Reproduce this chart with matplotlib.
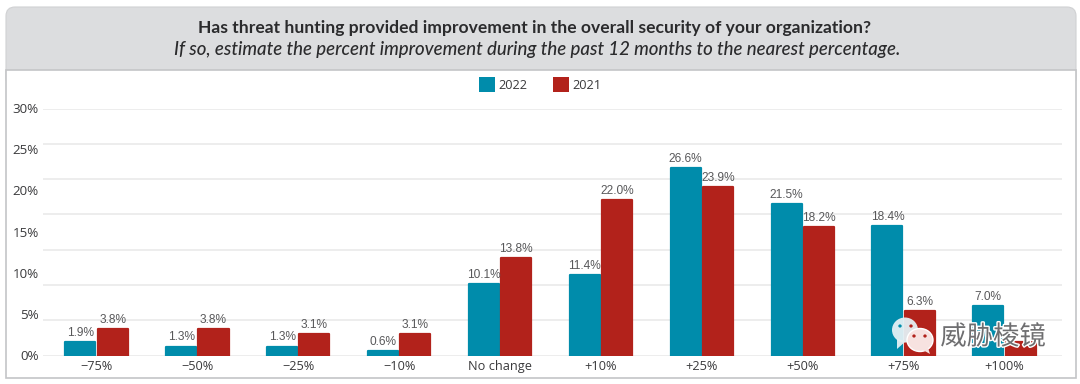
import matplotlib
matplotlib.use('Agg')
import matplotlib.pyplot as plt
from matplotlib.patches import FancyBboxPatch, Rectangle, Ellipse, Polygon
import matplotlib.patheffects as pe
import numpy as np

categories = ['\u221275%', '\u221250%', '\u221225%', '\u221210%', 'No change',
              '+10%', '+25%', '+50%', '+75%', '+100%']
values_2022 = [1.9, 1.3, 1.3, 0.6, 10.1, 11.4, 26.6, 21.5, 18.4, 7.0]
values_2021 = [3.8, 3.8, 3.1, 3.1, 13.8, 22.0, 23.9, 18.2, 6.3, 1.9]
# the last 2021 label is hidden behind the watermark in the picture
labels_2022 = ['1.9%', '1.3%', '1.3%', '0.6%', '10.1%', '11.4%', '26.6%', '21.5%', '18.4%', '7.0%']
labels_2021 = ['3.8%', '3.8%', '3.1%', '3.1%', '13.8%', '22.0%', '23.9%', '18.2%', '6.3%', '']
gridlines = [0, 5, 10, 15, 20, 25, 30, 35]
ytick_labels = ['0%', '5%', '10%', '15%', '20%', '25%', '30%']

TEAL = '#008CAB'
RED = '#B2221B'
TEXT = '#3A3A3C'
W, H = 1080, 384

plt.rcParams['font.family'] = ['Open Sans', 'DejaVu Sans']

fig = plt.figure(figsize=(W / 100, H / 100), dpi=100)

# frame and header, in pixel coordinates
bg = fig.add_axes([0, 0, 1, 1], zorder=0)
bg.set_xlim(0, W)
bg.set_ylim(H, 0)
bg.axis('off')
bg.add_patch(FancyBboxPatch((6, 7), 1070, 80, boxstyle='round,pad=0,rounding_size=9',
                            fc='#DCDDDF', ec='#D0D1D3', lw=0.8))
bg.add_patch(Rectangle((6, 70), 1070, 308, fc='white', ec='#C4C5C7', lw=1.2))
bg.text(534.5, 27.5, 'Has threat hunting provided improvement in the overall security of your organization?',
        ha='center', va='center', fontsize=12.58, fontweight='bold', color='#2B2B2D', family=['Lato', 'DejaVu Sans'])
bg.text(537.5, 49.5, 'If so, estimate the percent improvement during the past 12 months to the nearest percentage.',
        ha='center', va='center', fontsize=13.4, fontstyle='italic', fontweight=500, color='#2B2B2D',
        family=['Lato', 'DejaVu Sans'])

# bars
ax = fig.add_axes([43 / W, (H - 355.7) / H, (1062 - 43) / W, 247.2 / H], zorder=1)
ax.patch.set_alpha(0)
x = np.arange(len(categories))
bw = 0.32
for xs, vals, labs, col in [(x - bw / 2, values_2022, labels_2022, TEAL),
                            (x + bw / 2, values_2021, labels_2021, RED)]:
    bars = ax.bar(xs, vals, width=bw - 0.022, color=col, edgecolor=col, linewidth=1.6, zorder=3)
    for b in bars:
        b.set_joinstyle('round')
    for xi, v, lab in zip(xs, vals, labs):
        ax.annotate(lab, (xi, v), xytext=(0, 2.2), textcoords='offset points', ha='center', va='bottom',
                    fontsize=8.6, color='#58585A', family=['Liberation Sans', 'DejaVu Sans'], zorder=4)

ax.set_xlim(-0.53, 9.57)
ax.set_ylim(0, 35)
ax.set_yticks(gridlines)
ax.set_yticklabels([])
ax.set_xticks(x)
ax.set_xticklabels(categories)
ax.tick_params(axis='both', length=0, labelsize=9.2, labelcolor=TEXT)
ax.tick_params(axis='x', pad=3)
ax.grid(axis='y', color='#E8E8E8', lw=1.1, zorder=0)
ax.set_axisbelow(True)
for s in ax.spines.values():
    s.set_visible(False)

# the printed tick labels are spread evenly and do not sit on the gridlines
for i, lab in enumerate(ytick_labels):
    ax.text(-0.004, i / (len(ytick_labels) - 1) - 0.004, lab, transform=ax.transAxes, ha='right', va='center',
            fontsize=9.6, color=TEXT, clip_on=False)

# legend and watermark on top
fg = fig.add_axes([0, 0, 1, 1], zorder=2)
fg.set_xlim(0, W)
fg.set_ylim(H, 0)
fg.axis('off')
fg.patch.set_alpha(0)
fg.add_patch(Rectangle((479, 77), 16, 15, fc=TEAL))
fg.text(498, 85.5, '2022', va='center', fontsize=9.2, color=TEXT)
fg.add_patch(Rectangle((553, 77), 16, 15, fc=RED))
fg.text(572, 85.5, '2021', va='center', fontsize=9.2, color=TEXT)

fg.add_patch(Ellipse((905, 330), 26, 25, fc='#E4F0F4', ec='none', alpha=0.95))
fg.add_patch(Polygon([[897, 339], [897, 349], [906, 341]], fc='#E4F0F4', alpha=0.95))
fg.add_patch(Ellipse((920, 340), 26, 23, fc='#F7E2E0', ec='white', lw=1))
fg.add_patch(Polygon([[923, 350], [930, 354], [928, 348]], fc='#F7E2E0'))
for cx, cy, c in [(900, 326, TEAL), (911, 326, RED), (914, 336, RED), (925, 336, RED)]:
    fg.add_patch(Ellipse((cx, cy), 3.4, 3.2, fc=c))
fg.text(993, 337, '威胁棱镜', ha='center', va='center', fontsize=19, color='#6E6E70',
        family=['Noto Sans CJK SC', 'DejaVu Sans'],
        path_effects=[pe.withStroke(linewidth=2, foreground='white')])

fig.savefig('out.png', dpi=100)
